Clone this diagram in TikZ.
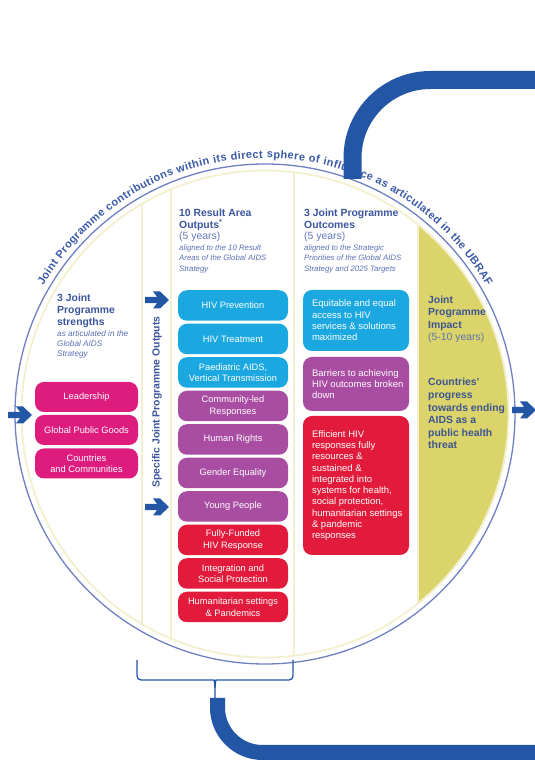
\documentclass[tikz,border=0pt]{standalone}
\usepackage{fontspec}
\setmainfont{Liberation Sans}
\usetikzlibrary{decorations.text}
\definecolor{strmag}{HTML}{DD1C7E}
\definecolor{cyanbox}{HTML}{1BA8E1}
\definecolor{purplebox}{HTML}{A84DA1}
\definecolor{redbox}{HTML}{E21B3C}
\definecolor{impyellow}{HTML}{DAD46A}
\definecolor{creamc}{HTML}{F3F0CE}
\definecolor{ringblue}{HTML}{6F80C3}
\definecolor{thickblue}{HTML}{2456A6}
\definecolor{hdblue}{HTML}{3C559F}
\definecolor{subblue}{HTML}{6479BD}
\definecolor{itblue}{HTML}{5B70B5}
\definecolor{impblue}{HTML}{3E5492}
\definecolor{impsub}{HTML}{5F72AE}
\definecolor{curveblue}{HTML}{3B5AA8}
\newcommand\rkBox{\fontsize{9.3}{11.5}\selectfont}
\newcommand\rkOc{\fontsize{9.5}{11.3}\selectfont}
\newcommand\rkHd{\fontsize{10.4}{11.5}\selectfont\bfseries}
\newcommand\rkSub{\fontsize{10.4}{11.5}\selectfont\mdseries\upshape}
\newcommand\rkIt{\fontsize{7.8}{10.4}\selectfont\mdseries\itshape}
\newcommand\rkItS{\fontsize{8.2}{10.2}\selectfont\mdseries\itshape}
\newcommand\rkCurve{\fontsize{11}{13}\selectfont\bfseries\color{curveblue}}
\begin{document}
\begin{tikzpicture}[x=1pt,y=1pt,
  box/.style={rounded corners=9pt, inner sep=0pt, text=white, align=center, font=\rkBox},
  strbox/.style={box, fill=strmag, minimum width=103pt, minimum height=30pt},
  outbox/.style={box, minimum width=110pt, minimum height=30.5pt},
  ocbox/.style={rounded corners=9pt, inner sep=0pt, minimum width=106pt},
  octext/.style={anchor=west, inner sep=0pt, align=left, text=white, font=\rkOc},
  strip/.style={draw=creamc, line width=2.6pt},
  heading/.style={anchor=base west, inner sep=0pt, text=hdblue},
  thickline/.style={draw=thickblue, line width=18pt},
  bracel/.style={draw=thickblue, line width=1.3pt},
  bluearrow/.pic={\fill[thickblue] (-12,-3.2) -- (0,-3.2) -- (-4,-8.5) -- (3,-8.5) -- (12,0) -- (3,8.5) -- (-4,8.5) -- (0,3.2) -- (-12,3.2) -- cycle;}
]
\useasboundingbox (0,0) rectangle (535,760);
\fill[white] (0,0) rectangle (535,760);
\coordinate (C) at (265,346);

% impact area
\begin{scope}
\clip (C) circle[radius=244];
\fill[impyellow] (418,0) rectangle (540,760);
\end{scope}
% column separators
\begin{scope}
\clip (C) circle[radius=243.5];
\foreach \x in {142,171,294,418} \draw[strip] (\x,0) -- (\x,760);
\end{scope}
\draw[creamc, line width=1.8pt] (C) circle[radius=243.5];
\draw[ringblue, line width=1.3pt] (C) circle[radius=250];

% curved text
\path[decorate, decoration={text along path,
  text={|\rkCurve|Joint Programme contributions within its direct sphere of influence as articulated in the UBRAF},
  text align={fit to path}}]
  ([shift={(150:256)}]C) arc[start angle=150, end angle=30, radius=256];

% column 1: strengths
\node[heading] (strh) at (57,458) {\vtop{\fontsize{10.4}{12}\selectfont\bfseries
  \hbox{3 Joint}\hbox{Programme}\hbox{strengths}\rkItS
  \hbox{\color{itblue}as articulated in the}\hbox{\color{itblue}Global AIDS}\hbox{\color{itblue}Strategy}}};
\node[strbox] (lead) at (86.5,363) {Leadership};
\node[strbox] (gpg) at (86.5,330) {Global Public Goods};
\node[strbox] (cc) at (86.5,296.5) {Countries\\and Communities};

% specific outputs label
\node[rotate=90, inner sep=0pt, text=hdblue, font=\rkHd] (spec) at (157,358) {Specific Joint Programme Outputs};

% column 2: result area outputs
\node[heading] (rah) at (179,543) {\vtop{\rkHd
  \hbox{10 Result Area}\hbox{Outputs\textsuperscript{*}}\rkSub
  \hbox{\color{subblue}(5 years)}\rkIt
  \hbox{\color{itblue}aligned to the 10 Result}\hbox{\color{itblue}Areas of the Global AIDS}\hbox{\color{itblue}Strategy}}};
\node[outbox, fill=cyanbox] (o1) at (233,454.5) {HIV Prevention};
\node[outbox, fill=cyanbox] (o2) at (233,421) {HIV Treatment};
\node[outbox, fill=cyanbox] (o3) at (233,387.5) {Paediatric AIDS,\\Vertical Transmission};
\node[outbox, fill=purplebox] (o4) at (233,354) {Community-led\\Responses};
\node[outbox, fill=purplebox] (o5) at (233,320.5) {Human Rights};
\node[outbox, fill=purplebox] (o6) at (233,287) {Gender Equality};
\node[outbox, fill=purplebox] (o7) at (233,253.5) {Young People};
\node[outbox, fill=redbox] (o8) at (233,220) {Fully-Funded\\HIV Response};
\node[outbox, fill=redbox] (o9) at (233,186.5) {Integration and\\Social Protection};
\node[outbox, fill=redbox] (o10) at (233,153) {Humanitarian settings\\\& Pandemics};

% column 3: outcomes
\node[heading] (och) at (304,543) {\vtop{\rkHd
  \hbox{3 Joint Programme}\hbox{Outcomes}\rkSub
  \hbox{\color{subblue}(5 years)}\rkIt
  \hbox{\color{itblue}aligned to the Strategic}\hbox{\color{itblue}Priorities of the Global AIDS}\hbox{\color{itblue}Strategy and 2025 Targets}}};
\node[ocbox, fill=cyanbox, minimum height=61pt] (eq) at (356,439.5) {};
\node[ocbox, fill=purplebox, minimum height=54pt] (bar) at (356,376) {};
\node[ocbox, fill=redbox, minimum height=139pt] (eff) at (356,274.5) {};
\node[octext] (eqt) at ([xshift=9pt]eq.west) {Equitable and equal\\access to HIV\\services \& solutions\\maximized};
\node[octext] (bart) at ([xshift=9pt]bar.west) {Barriers to achieving\\HIV outcomes broken\\down};
\node[octext] (efft) at ([xshift=9pt]eff.west) {Efficient HIV\\responses fully\\resources \&\\sustained \&\\integrated into\\systems for health,\\social protection,\\humanitarian settings\\\& pandemic\\responses};

% column 4: impact
\node[heading, text=impblue] (imph) at (428,456.5) {\vtop{\fontsize{10.4}{12.5}\selectfont\bfseries
  \hbox{Joint}\hbox{Programme}\hbox{Impact}\mdseries
  \hbox{\color{impsub}(5-10 years)}}};
\node[heading, text=impblue] (impt) at (428,374) {\vtop{\fontsize{10.4}{12.6}\selectfont\bfseries
  \hbox{Countries’}\hbox{progress}\hbox{towards ending}\hbox{AIDS as a}\hbox{public health}\hbox{threat}}};

% arrows
\pic (arL) at (20,345) {bluearrow};
\pic (arM1) at (157,460) {bluearrow};
\pic (arM2) at (157,253) {bluearrow};
\pic (arR) at (524,350) {bluearrow};

% thick connectors
\coordinate (topstart) at (352.5,581);
\coordinate (topend) at (545,680);
\draw[thickline, rounded corners=78pt] (topstart) |- (topend);
\coordinate (botstart) at (217.5,62);
\coordinate (botend) at (545,7.5);
\draw[thickblue, line width=15pt, rounded corners=45pt] (botstart) |- (botend);

% brace
\coordinate (brL) at (137,100);
\coordinate (brR) at (293,100);
\coordinate (brTip) at (215,62);
\draw[bracel] (brL) [rounded corners=4pt] |- (210,80) [sharp corners] .. controls (214,80) and (215,77) .. (215,72) -- (brTip);
\draw[bracel] (brR) [rounded corners=4pt] |- (220,80) [sharp corners] .. controls (216,80) and (215,77) .. (215,72);
\end{tikzpicture}
\end{document}
